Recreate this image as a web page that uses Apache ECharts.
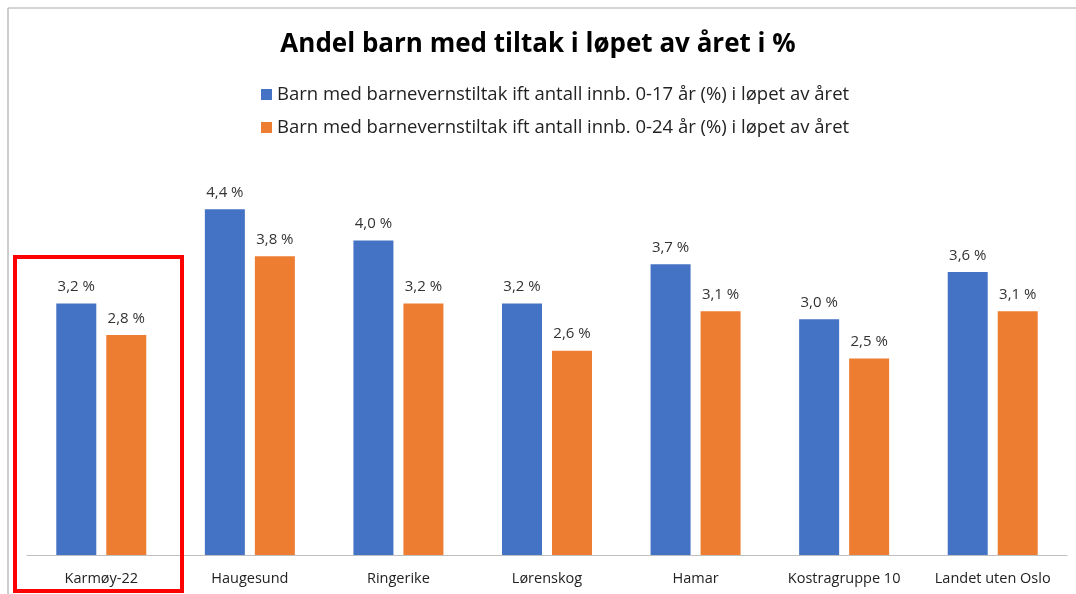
<!DOCTYPE html>
<html>
<head>
<meta charset="utf-8">
<script src="https://cdn.jsdelivr.net/npm/echarts@6/dist/echarts.min.js"></script>
<style>
  html, body { margin: 0; padding: 0; background: #fff; }
  #main { width: 1076px; height: 594px; }
</style>
</head>
<body>
<div id="main"></div>
<script>
var categories = ['Karmøy-22', 'Haugesund', 'Ringerike', 'Lørenskog', 'Hamar', 'Kostragruppe 10', 'Landet uten Oslo'];
var name017 = 'Barn med barnevernstiltak ift antall innb. 0-17 år (%) i løpet av året';
var name024 = 'Barn med barnevernstiltak ift antall innb. 0-24 år (%) i løpet av året';
var values017 = [3.2, 4.4, 4.0, 3.2, 3.7, 3.0, 3.6];
var values024 = [2.8, 3.8, 3.2, 2.6, 3.1, 2.5, 3.1];

var fontFam = '"Open Sans", "Liberation Sans", sans-serif';

function pctLabel(p) {
    return p.value.toFixed(1).replace('.', ',') + ' %';
}

var dom = document.getElementById('main');
var myChart = echarts.init(dom);

var option = {
    animation: false,
    title: {
        text: 'Andel barn med tiltak i løpet av året i %',
        left: 'center',
        top: 27,
        textStyle: { fontFamily: fontFam, fontSize: 26, fontWeight: 'bold', color: '#000' }
    },
    legend: {
        data: [name017, name024],
        orient: 'vertical',
        left: 256,
        top: 80,
        itemWidth: 11,
        itemHeight: 11,
        itemGap: 14,
        icon: 'rect',
        textStyle: { fontFamily: fontFam, fontSize: 18.5, color: '#222' }
    },
    grid: {
        left: 27,
        right: 9,
        top: 162,
        bottom: 39
    },
    xAxis: {
        type: 'category',
        data: categories,
        axisLine: { lineStyle: { color: '#bfbfbf', width: 1 } },
        axisTick: { show: false },
        axisLabel: { interval: 0, fontFamily: fontFam, fontSize: 14.5, color: '#222', margin: 16 }
    },
    yAxis: {
        type: 'value',
        min: 0,
        max: 5,
        show: false,
        splitLine: { show: false }
    },
    series: [
        {
            name: name017,
            type: 'bar',
            data: values017,
            barWidth: 40,
            barGap: '25%',
            itemStyle: { color: '#4472C4' },
            label: {
                show: true,
                position: 'top',
                distance: 9,
                formatter: pctLabel,
                fontFamily: fontFam,
                fontSize: 15,
                color: '#333'
            }
        },
        {
            name: name024,
            type: 'bar',
            data: values024,
            barWidth: 40,
            itemStyle: { color: '#ED7D31' },
            label: {
                show: true,
                position: 'top',
                distance: 9,
                formatter: pctLabel,
                fontFamily: fontFam,
                fontSize: 15,
                color: '#333'
            }
        }
    ],
    graphic: [
        // frame of the pasted chart
        { type: 'line', shape: { x1: 8, y1: 8, x2: 1076, y2: 8 }, style: { stroke: '#d4d4d4', lineWidth: 2 } },
        { type: 'line', shape: { x1: 8, y1: 8, x2: 8, y2: 594 }, style: { stroke: '#bdbdbd', lineWidth: 1.5 } },
        // red highlight box around Karmøy
        { type: 'rect', shape: { x: 15, y: 257, width: 167, height: 334 }, style: { fill: 'none', stroke: '#FF0000', lineWidth: 4 }, z: 100 }
    ]
};

myChart.setOption(option);
</script>
</body>
</html>
